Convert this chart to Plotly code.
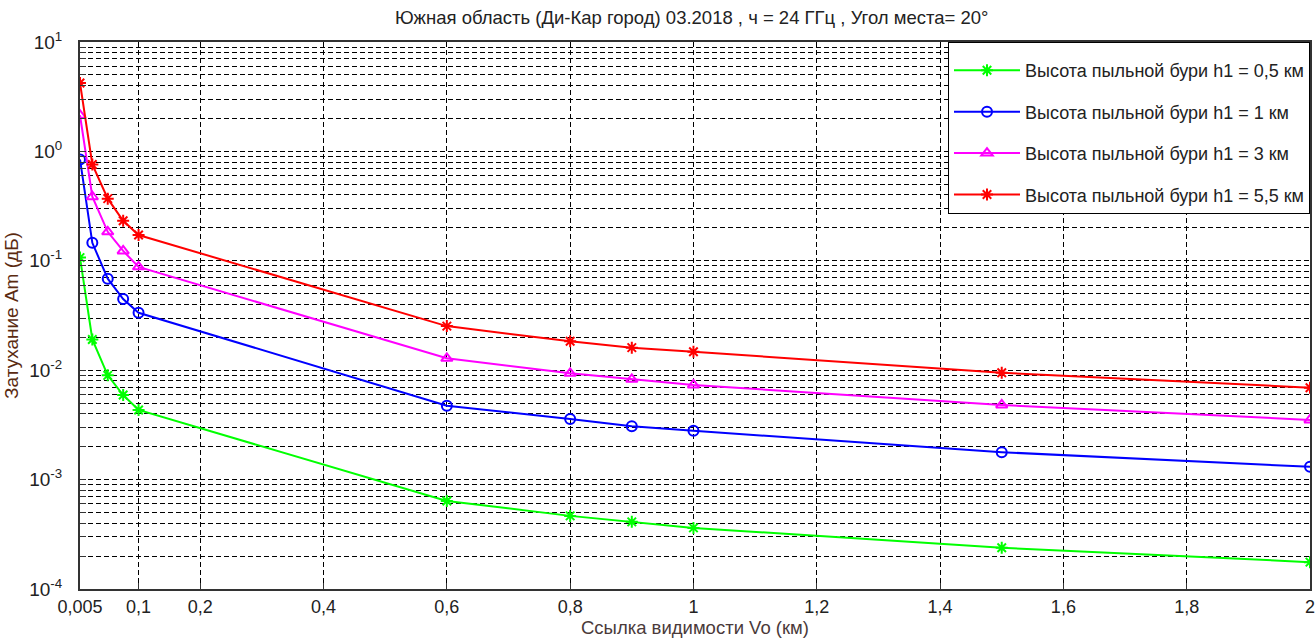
import plotly.graph_objects as go

vis_km = [0.005, 0.025, 0.05, 0.075, 0.1, 0.6, 0.8, 0.9, 1.0, 1.5, 2.0]

att_h05 = [0.107, 0.0191, 0.00897, 0.00593, 0.00433, 0.000638, 0.000466, 0.000411, 0.000362, 0.000238, 0.000176]
att_h1 = [0.843, 0.146, 0.0686, 0.0447, 0.0335, 0.00474, 0.00358, 0.00307, 0.00279, 0.00178, 0.00131]
att_h3 = [2.14, 0.385, 0.184, 0.123, 0.088, 0.01285, 0.00937, 0.00826, 0.00733, 0.00481, 0.00351]
att_h55 = [4.22, 0.76, 0.37, 0.232, 0.172, 0.0253, 0.01836, 0.01607, 0.01476, 0.00948, 0.00692]

series_names = [
    "Высота пыльной бури h1 = 0,5 км",
    "Высота пыльной бури h1 = 1 км",
    "Высота пыльной бури h1 = 3 км",
    "Высота пыльной бури h1 = 5,5 км",
]
series_values = [att_h05, att_h1, att_h3, att_h55]
series_colors = ["#00ff00", "#0000ff", "#ff00ff", "#ff0000"]
series_symbols = ["asterisk-open", "circle-open", "triangle-up-open", "asterisk-open"]

x_tickvals = [0.005, 0.1, 0.2, 0.4, 0.6, 0.8, 1.0, 1.2, 1.4, 1.6, 1.8, 2.0]
x_ticktext = ["0,005", "0,1", "0,2", "0,4", "0,6", "0,8", "1", "1,2", "1,4", "1,6", "1,8", "2"]

y_decades = [-4, -3, -2, -1, 0, 1]

title_text = "Южная область (Ди-Кар город) 03.2018 , ч = 24 ГГц , Угол места= 20°"
x_title = "Ссылка видимости Vo (км)"
y_title = "Затухание Am (дБ)"

y_tickvals = []
y_ticktext = []
for d in y_decades:
    for k in range(1, 10):
        if d == y_decades[-1] and k > 1:
            break
        y_tickvals.append(k * 10.0 ** d)
        y_ticktext.append(f"10<sup>{d}</sup>" if k == 1 else "")

FONT = "Liberation Sans, Arial, sans-serif"
GRID_DASH = "5px,3px"

fig = go.Figure()
for i, (name, vals, col, sym) in enumerate(zip(series_names, series_values, series_colors, series_symbols)):
    fig.add_trace(go.Scatter(
        x=vis_km, y=vals, mode="lines+markers", name=name,
        legendgroup=f"g{i}",
        line=dict(color=col, width=2),
        marker=dict(symbol=sym, size=10, color=col, line=dict(color=col, width=2)),
    ))

fig.update_layout(
    width=1315, height=639,
    margin=dict(l=80, r=5, t=42, b=50),
    paper_bgcolor="white", plot_bgcolor="white",
    font=dict(family=FONT, size=18, color="#222222"),
    title=dict(text=title_text, x=0.526, xanchor="center", y=0.972, yanchor="middle",
               font=dict(family=FONT, size=18.5, color="#222222")),
    showlegend=True,
    legend=dict(x=1, y=1, xanchor="right", yanchor="top",
                bgcolor="white", bordercolor="black", borderwidth=1,
                font=dict(family=FONT, size=18, color="#222222"),
                title=dict(text=" ", font=dict(size=7)),
                tracegroupgap=15, traceorder="grouped", itemwidth=66),
)

fig.update_xaxes(
    range=[0.005, 2.0],
    tickvals=x_tickvals, ticktext=x_ticktext,
    showgrid=True, gridcolor="black", griddash=GRID_DASH, gridwidth=1,
    showline=True, linecolor="#333333", linewidth=2, mirror=True,
    ticks="inside", ticklen=6, tickcolor="#333333",
    tickfont=dict(family=FONT, size=18, color="#222222"),
    ticklabeloverflow="allow",
    zeroline=False, automargin=False,
    title=dict(text=x_title, standoff=4, font=dict(family=FONT, size=18.5, color="#4a3a3a")),
)
fig.update_yaxes(
    type="log", range=[-4, 1],
    tickvals=y_tickvals, ticktext=y_ticktext,
    showgrid=True, gridcolor="black", griddash=GRID_DASH, gridwidth=1,
    showline=True, linecolor="#333333", linewidth=2, mirror=True,
    ticks="inside", ticklen=6, tickcolor="#333333",
    tickfont=dict(family=FONT, size=19, color="#222222"),
    ticklabelstandoff=12, ticklabeloverflow="allow",
    zeroline=False, automargin=False,
    title=dict(text=y_title, standoff=6, font=dict(family=FONT, size=19, color="#5a2a10")),
)

fig.write_html("out.html")
